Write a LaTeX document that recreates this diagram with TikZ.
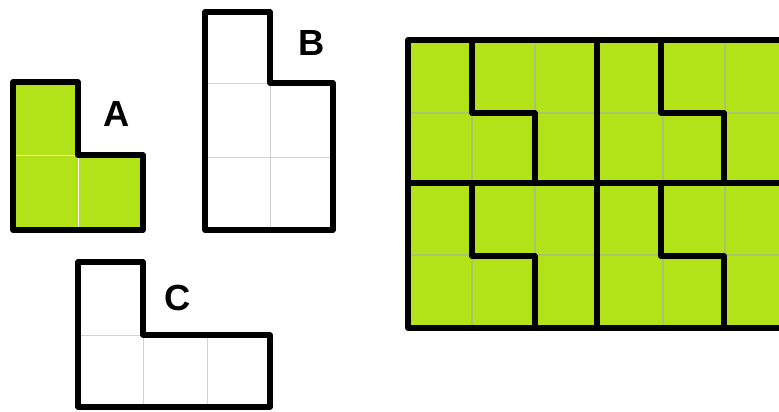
\documentclass[tikz,border=0pt]{standalone}
\usepackage{fontspec}
\setsansfont{Liberation Sans}
\usepackage{xcolor}
\definecolor{leaf}{RGB}{178,226,24}
\definecolor{leafline}{RGB}{168,196,110}
\usetikzlibrary{positioning}
\tikzset{
	outline/.style={line width=4.5pt, line join=round},
	cellline/.style={line width=0.8pt, draw=gray!35},
	leafcell/.style={line width=1pt, draw=leafline},
	piecelabel/.style={font=\sffamily\bfseries\fontsize{31}{31}\selectfont, inner sep=0pt}
}

\begin{document}
\begin{tikzpicture}[x=0.03cm, y=-0.03cm]
	\clip (0,0) rectangle (779,411);
	\fill[white] (0,0) rectangle (779,411);
	
	% piece A (green)
	\fill[leaf] (13,82) -- (78,82) -- (78,155) -- (143,155) -- (143,230) -- (13,230) -- cycle;
	\draw[line width=0.8pt, white] (13,155) -- (78,155) -- (78,230);
	\draw[outline] (13,82) -- (78,82) -- (78,155) -- (143,155) -- (143,230) -- (13,230) -- cycle;
	\node[piecelabel] (labA) at (117,114) {A};
	
	% piece B
	\draw[cellline] (205,83) -- (270,83);
	\draw[cellline] (205,157) -- (333,157);
	\draw[cellline] (270,83) -- (270,230);
	\draw[outline] (205,12) -- (270,12) -- (270,83) -- (333,83) -- (333,230) -- (205,230) -- cycle;
	\node[piecelabel] (labB) at (312,43) {B};
	
	% piece C
	\draw[cellline] (78,335) -- (143,335);
	\draw[cellline] (143,335) -- (143,407);
	\draw[cellline] (207,335) -- (207,407);
	\draw[outline] (78,262) -- (143,262) -- (143,335) -- (270,335) -- (270,407) -- (78,407) -- cycle;
	\node[piecelabel] (labC) at (178,298) {C};
	
	% tiling with A
	\fill[leaf] (408,40) rectangle (787,328);
	\foreach \gx in {472,535,663,725}
		\draw[leafcell] (\gx,40) -- (\gx,328);
	\foreach \gy in {113,255}
		\draw[leafcell] (408,\gy) -- (787,\gy);
	
	\draw[outline] (408,40) rectangle (787,328);
	\draw[outline] (597,40) -- (597,328);
	\draw[outline] (408,183) -- (787,183);
	\foreach \bx in {408,597}
		\foreach \by in {40,183}
			\draw[outline] (\bx+64,\by) -- (\bx+64,\by+73) -- (\bx+127,\by+73) -- (\bx+127,\by+143);
\end{tikzpicture}
\end{document}
